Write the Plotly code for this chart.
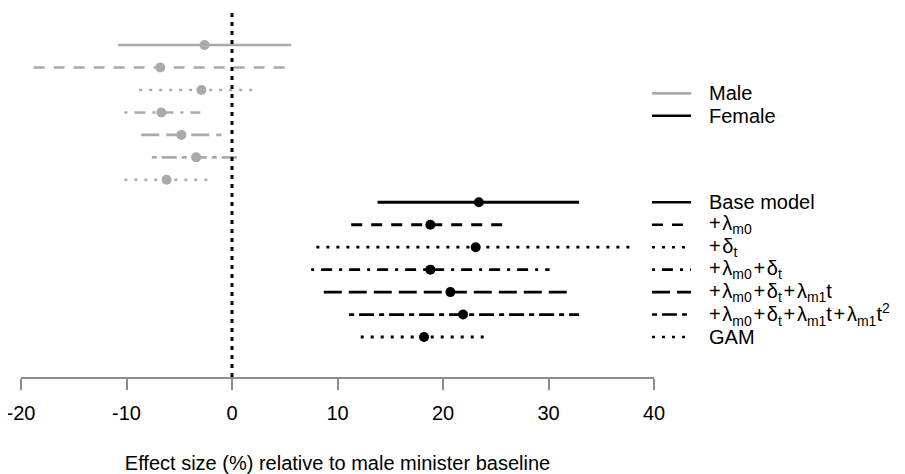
import plotly.graph_objects as go

S = "\u200a"  # hair space, as in the compact math labels of the reference
# ---- data ----
models = ["Base model",
          f"+{S}λ<sub>m0</sub>",
          f"+{S}δ<sub>t</sub>",
          f"+{S}λ<sub>m0</sub>{S}+{S}δ<sub>t</sub>",
          f"+{S}λ<sub>m0</sub>{S}+{S}δ<sub>t</sub>{S}+{S}λ<sub>m1</sub>t",
          f"+{S}λ<sub>m0</sub>{S}+{S}δ<sub>t</sub>{S}+{S}λ<sub>m1</sub>t{S}+{S}λ<sub>m1</sub>t<sup>2</sup>",
          "GAM"]
male_est = [-2.6, -6.8, -2.9, -6.7, -4.8, -3.4, -6.2]
male_lo = [-10.8, -18.8, -8.8, -10.2, -8.6, -7.6, -10.2]
male_hi = [5.6, 5.3, 2.3, -3.0, -1.0, 0.7, -2.2]
female_est = [23.4, 18.8, 23.1, 18.8, 20.7, 21.9, 18.2]
female_lo = [13.8, 11.3, 8.0, 7.5, 8.7, 11.1, 12.2]
female_hi = [32.9, 25.8, 38.2, 30.1, 32.1, 32.9, 24.1]
x_ticks = [-20, -10, 0, 10, 20, 30, 40]
groups = ["Male", "Female"]

# ---- styles ----
dashes = ["solid", "11px,9px", "3px,7px", "3px,7px,11px,7px", "18px,7px",
          "5px,5px,15px,5px", "3px,7px"]
GREY = "#aaaaaa"
BLACK = "#000000"
FONT = "Liberation Sans, Arial, sans-serif"
FS = 20

fig = go.Figure()

n = len(models)
for i in range(n):
    fig.add_trace(go.Scatter(x=[male_lo[i], male_hi[i]], y=[i + 1, i + 1], mode="lines",
                             line=dict(color=GREY, width=2.6, dash=dashes[i]),
                             showlegend=False, hoverinfo="skip"))
    fig.add_trace(go.Scatter(x=[female_lo[i], female_hi[i]], y=[i + 1 + n, i + 1 + n], mode="lines",
                             line=dict(color=BLACK, width=2.8, dash=dashes[i]),
                             showlegend=False, hoverinfo="skip"))

fig.add_trace(go.Scatter(x=male_est, y=[i + 1 for i in range(n)], mode="markers",
                         marker=dict(color=GREY, size=10), showlegend=False))
fig.add_trace(go.Scatter(x=female_est, y=[i + 1 + n for i in range(n)], mode="markers",
                         marker=dict(color=BLACK, size=10), showlegend=False))

# zero reference line
fig.add_shape(type="line", xref="x", yref="paper", x0=0, x1=0, y0=0, y1=1,
              line=dict(color=BLACK, width=3, dash="4px,5px"))

# manual legend to the right of the plot area (paper x, data y)
lx0, lx1, tx = 0.9968, 1.0585, 1.0837
gy = [3.15, 4.15]
gcol = [GREY, BLACK]
for g, yy, c in zip(groups, gy, gcol):
    fig.add_shape(type="line", xref="paper", yref="y", x0=lx0, x1=lx1, y0=yy, y1=yy,
                  line=dict(color=c, width=2.6))
    fig.add_annotation(x=tx, y=yy, xref="paper", yref="y", text=g, showarrow=False,
                       xanchor="left", yanchor="middle",
                       font=dict(family=FONT, size=FS, color=BLACK))
for i, m in enumerate(models):
    yy = i + 1 + n
    fig.add_shape(type="line", xref="paper", yref="y", x0=lx0, x1=lx1, y0=yy, y1=yy,
                  line=dict(color=BLACK, width=2.6, dash=dashes[i]))
    fig.add_annotation(x=tx, y=yy, xref="paper", yref="y", text=m, showarrow=False,
                       xanchor="left", yanchor="middle",
                       font=dict(family=FONT, size=FS, color=BLACK))

# page body has an 8px margin, so the figure is shrunk/offset accordingly
fig.update_layout(
    width=897, height=466,
    margin=dict(l=13, r=251, t=0, b=97, autoexpand=False),
    plot_bgcolor="white", paper_bgcolor="white",
    font=dict(family=FONT, size=FS, color=BLACK),
    showlegend=False,
    xaxis=dict(range=[-20, 40], tickvals=x_ticks, ticktext=[str(v) for v in x_ticks],
               showgrid=False, zeroline=False, showline=True, linecolor="#8c8c8c",
               linewidth=1.5, ticks="outside", ticklen=11, tickwidth=1.5,
               tickcolor="#8c8c8c", tickfont=dict(size=FS, color=BLACK),
               ticklabelstandoff=6, automargin=False, ticklabeloverflow="allow",
               title=dict(text="Effect size (%) relative to male minister baseline",
                          font=dict(size=FS, color=BLACK), standoff=33)),
    yaxis=dict(range=[15.78, -0.65], visible=False),
)

fig.write_html("out.html")
